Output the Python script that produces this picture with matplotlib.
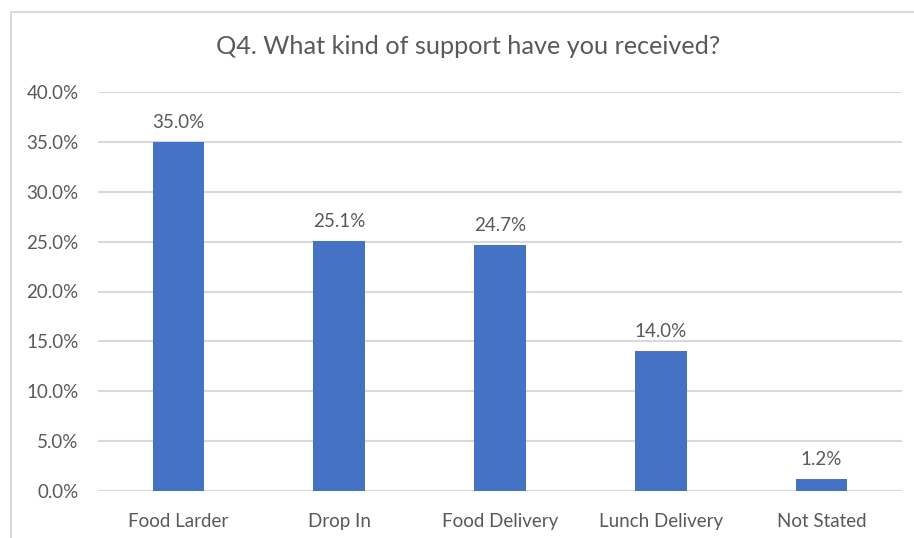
import matplotlib.pyplot as plt
from matplotlib.patches import Rectangle
from matplotlib.ticker import PercentFormatter

categories = ['Food Larder', 'Drop In', 'Food Delivery', 'Lunch Delivery', 'Not Stated']
shares = [35.0, 25.1, 24.7, 14.0, 1.2]
yticks = [0, 5, 10, 15, 20, 25, 30, 35, 40]

BAR = '#4472C4'
GRID = '#d9d9d9'
TXT = '#595959'

plt.rcParams['font.family'] = ['Lato', 'DejaVu Sans']

W, H = 914, 538
fig = plt.figure(figsize=(W / 100, H / 100), dpi=100)

# chart area border (runs off the right and bottom edges)
fig.patches.append(Rectangle((11 / W, -0.1), 1.1, 1 - 12 / H + 0.1, transform=fig.transFigure,
                             fill=False, edgecolor=GRID, linewidth=1.4))

ax = fig.add_axes([98 / W, 1 - 491 / H, (902 - 98) / W, (491 - 92) / H])

x = range(len(categories))
bars = ax.bar(x, shares, width=0.32, color=BAR, zorder=3)

for xi, v in zip(x, shares):
    ax.annotate(f'{v:.1f}%', (xi, v), xytext=(0, 8), textcoords='offset points',
                ha='center', va='bottom', fontsize=13.5, color=TXT)

ax.set_xlim(-0.5, len(categories) - 0.5)
ax.set_ylim(0, 40)
ax.set_yticks(yticks)
ax.yaxis.set_major_formatter(PercentFormatter(decimals=1))
ax.set_xticks(list(x))
ax.set_xticklabels(categories)
ax.grid(axis='y', color=GRID, linewidth=1.5, zorder=0)
for s in ax.spines.values():
    s.set_visible(False)
ax.tick_params(length=0, labelsize=13.5, labelcolor=TXT)
ax.tick_params(axis='y', pad=14)
ax.tick_params(axis='x', pad=16)

fig.text(468 / W, 1 - 47 / H, 'Q4. What kind of support have you received?',
         ha='center', va='center', fontsize=18.2, color=TXT)

fig.savefig('out.png', dpi=100)
